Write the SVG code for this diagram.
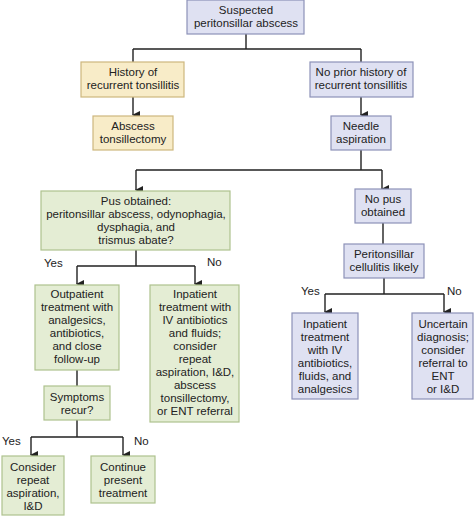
<svg xmlns="http://www.w3.org/2000/svg" width="474" height="524" viewBox="0 0 474 524">
<defs>
<style>
.b rect{fill:#dfe1f2;stroke:#8d92b8;stroke-width:1.2}
.y rect{fill:#f8ecc8;stroke:#cdb77e;stroke-width:1.2}
.g rect{fill:#e4edd4;stroke:#aec28e;stroke-width:1.2}
text{font-family:"Liberation Sans",Arial,sans-serif;font-size:11.5px;fill:#222;text-anchor:middle}
.lbl{text-anchor:start}
#connectors path{fill:none;stroke:#222;stroke-width:1.4}
</style>
<marker id="ah" markerWidth="8" markerHeight="8" refX="4" refY="7" orient="auto-start-reverse" markerUnits="userSpaceOnUse" viewBox="0 0 8 8">
<path d="M0,0 L8,0 L4,8 Z" fill="#222" transform="rotate(0)"/>
</marker>
</defs>
<rect width="474" height="524" fill="#fff"/>
<g id="connectors">
<path d="M246,34 V49 M133,49 H361 M133,49 V62 M361,49 V62"/>
<path d="M133,97 V115" marker-end="url(#ah)"/>
<path d="M361,97 V115" marker-end="url(#ah)"/>
<path d="M361,150 V170 M136,170 H382"/>
<path d="M136,170 V190" marker-end="url(#ah)"/>
<path d="M382,170 V189" marker-end="url(#ah)"/>
<path d="M136,250 V266 M77,266 H195"/>
<path d="M77,266 V284" marker-end="url(#ah)"/>
<path d="M195,266 V284" marker-end="url(#ah)"/>
<path d="M77,370 V386"/>
<path d="M77,420 V437 M31,437 H123"/>
<path d="M31,437 V455" marker-end="url(#ah)"/>
<path d="M123,437 V455" marker-end="url(#ah)"/>
<path d="M383,223 V244"/>
<path d="M384,278 V294 M325,294 H444"/>
<path d="M325,294 V312" marker-end="url(#ah)"/>
<path d="M444,294 V312" marker-end="url(#ah)"/>
</g>
<g id="n_suspected" class="b"><rect x="187" y="0" width="117" height="34"/><text x="246" y="14">Suspected</text><text x="246" y="27">peritonsillar abscess</text></g>
<g id="n_history" class="y"><rect x="81" y="62" width="103" height="35"/><text x="133" y="76">History of</text><text x="133" y="89">recurrent tonsillitis</text></g>
<g id="n_tonsillectomy" class="y"><rect x="93" y="116" width="80" height="34"/><text x="133" y="130">Abscess</text><text x="133" y="143">tonsillectomy</text></g>
<g id="n_noprior" class="b"><rect x="310" y="62" width="103" height="35"/><text x="361" y="76">No prior history of</text><text x="361" y="89">recurrent tonsillitis</text></g>
<g id="n_needle" class="b"><rect x="331" y="116" width="60" height="34"/><text x="361" y="130">Needle</text><text x="361" y="143">aspiration</text></g>
<g id="n_pus" class="g"><rect x="41" y="191" width="189" height="59"/><text x="136" y="205">Pus obtained:</text><text x="136" y="218">peritonsillar abscess, odynophagia,</text><text x="136" y="231">dysphagia, and</text><text x="136" y="244">trismus abate?</text></g>
<g id="n_outpatient" class="g"><rect x="35" y="285" width="84" height="85"/><text x="77" y="298">Outpatient</text><text x="77" y="311">treatment with</text><text x="77" y="324">analgesics,</text><text x="77" y="337">antibiotics,</text><text x="77" y="350">and close</text><text x="77" y="363">follow-up</text></g>
<g id="n_inpatient_l" class="g"><rect x="150" y="285" width="89" height="137"/><text x="195" y="298">Inpatient</text><text x="195" y="311">treatment with</text><text x="195" y="324">IV antibiotics</text><text x="195" y="337">and fluids;</text><text x="195" y="350">consider</text><text x="195" y="363">repeat</text><text x="195" y="376">aspiration, I&amp;D,</text><text x="195" y="389">abscess</text><text x="195" y="402">tonsillectomy,</text><text x="195" y="415">or ENT referral</text></g>
<g id="n_symptoms" class="g"><rect x="44" y="386" width="66" height="34"/><text x="77" y="401">Symptoms</text><text x="77" y="414">recur?</text></g>
<g id="n_consider" class="g"><rect x="2" y="456" width="62" height="59"/><text x="33" y="471">Consider</text><text x="33" y="484">repeat</text><text x="33" y="497">aspiration,</text><text x="33" y="510">I&amp;D</text></g>
<g id="n_continue" class="g"><rect x="91" y="456" width="64" height="47"/><text x="123" y="471">Continue</text><text x="123" y="484">present</text><text x="123" y="497">treatment</text></g>
<g id="n_nopus" class="b"><rect x="355" y="189" width="56" height="34"/><text x="383" y="203">No pus</text><text x="383" y="216">obtained</text></g>
<g id="n_cellulitis" class="b"><rect x="344" y="244" width="80" height="34"/><text x="384" y="258">Peritonsillar</text><text x="384" y="271">cellulitis likely</text></g>
<g id="n_inpatient_r" class="b"><rect x="292" y="313" width="66" height="86"/><text x="325" y="328">Inpatient</text><text x="325" y="341">treatment</text><text x="325" y="354">with IV</text><text x="325" y="367">antibiotics,</text><text x="325" y="380">fluids, and</text><text x="325" y="393">analgesics</text></g>
<g id="n_uncertain" class="b"><rect x="412" y="313" width="61" height="86"/><text x="443" y="328">Uncertain</text><text x="443" y="341">diagnosis;</text><text x="443" y="354">consider</text><text x="443" y="367">referral to</text><text x="443" y="380">ENT</text><text x="443" y="393">or I&amp;D</text></g>
<g id="labels">
<text class="lbl" x="44" y="267">Yes</text><text class="lbl" x="207" y="266">No</text>
<text class="lbl" x="2" y="445">Yes</text><text class="lbl" x="134" y="445">No</text>
<text class="lbl" x="301" y="295">Yes</text><text class="lbl" x="447" y="295">No</text>
</g>
</svg>
